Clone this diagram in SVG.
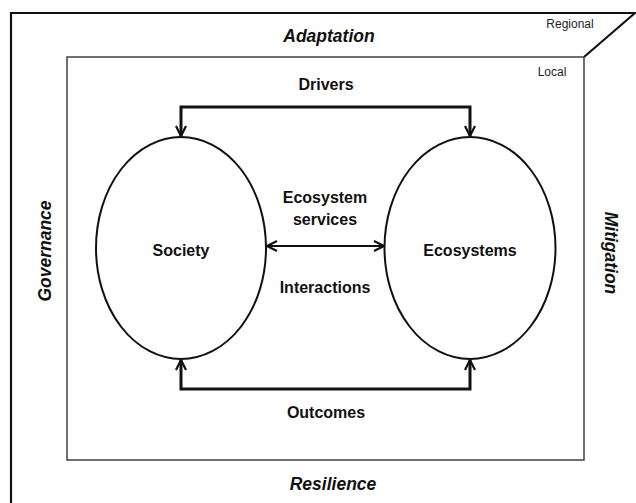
<svg xmlns="http://www.w3.org/2000/svg" width="636" height="503" viewBox="0 0 636 503">
  <style>
    .lbl { font-family: "Liberation Sans", Arial, sans-serif; font-weight: bold; font-size: 16px; fill: #111; text-anchor: middle; }
    .axis { font-family: "Liberation Sans", Arial, sans-serif; font-weight: bold; font-style: italic; font-size: 17.5px; fill: #111; text-anchor: middle; }
    .tag { font-family: "Liberation Sans", Arial, sans-serif; font-size: 12px; fill: #222; text-anchor: middle; }
    .node { fill: #fff; stroke: #111; stroke-width: 2; }
    .conn { fill: none; stroke: #111; stroke-width: 3; }
    .link { fill: none; stroke: #111; stroke-width: 2; }
  </style>
  <defs>
    <marker id="head" viewBox="0 0 12 12" refX="11" refY="6" markerWidth="12" markerHeight="12" markerUnits="userSpaceOnUse" orient="auto-start-reverse">
      <path d="M1,1 L11,6 L1,11" fill="none" stroke="#111" stroke-width="2.2"/>
    </marker>
  </defs>
  <rect width="636" height="503" fill="#fff"/>

  <!-- regional frame (open box in perspective) -->
  <g id="regional">
    <path d="M11,503 L11,13 L635,13 L584,57" fill="none" stroke="#111" stroke-width="2.2"/>
    <text class="tag" x="570" y="28">Regional</text>
  </g>

  <!-- local frame -->
  <g id="local">
    <rect x="67" y="57" width="517" height="403" fill="none" stroke="#333" stroke-width="1.4"/>
    <text class="tag" x="552" y="76">Local</text>
  </g>

  <!-- outer labels -->
  <g id="adaptation"><text class="axis" x="329" y="42">Adaptation</text></g>
  <g id="resilience"><text class="axis" x="333" y="490">Resilience</text></g>
  <g id="governance"><text class="axis" transform="translate(45,251) rotate(-90)" y="6">Governance</text></g>
  <g id="mitigation"><text class="axis" transform="translate(611,253) rotate(90)" y="6">Mitigation</text></g>

  <!-- nodes -->
  <g id="society">
    <ellipse class="node" cx="181" cy="248" rx="85" ry="111"/>
    <text class="lbl" x="181" y="256">Society</text>
  </g>
  <g id="ecosystems">
    <ellipse class="node" cx="470" cy="248" rx="85.5" ry="111"/>
    <text class="lbl" x="470" y="256">Ecosystems</text>
  </g>

  <!-- connectors -->
  <g id="connectors">
    <path class="conn" d="M181,136 L181,107 L470,107 L470,136" marker-start="url(#head)" marker-end="url(#head)"/>
    <path class="conn" d="M181,360 L181,389 L470,389 L470,360" marker-start="url(#head)" marker-end="url(#head)"/>
    <path class="link" d="M267,246 L384,246" marker-start="url(#head)" marker-end="url(#head)"/>
  </g>

  <!-- connector labels -->
  <g id="labels">
    <text class="lbl" x="326" y="90">Drivers</text>
    <text class="lbl" x="325" y="203">Ecosystem</text>
    <text class="lbl" x="325" y="225">services</text>
    <text class="lbl" x="325" y="293">Interactions</text>
    <text class="lbl" x="326" y="418">Outcomes</text>
  </g>
</svg>
